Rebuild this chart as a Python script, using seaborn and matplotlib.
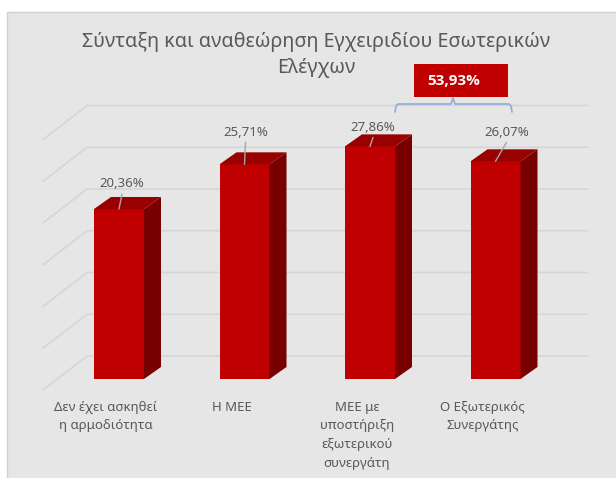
import numpy as np
import pandas as pd
import matplotlib
matplotlib.use("Agg")
import matplotlib.pyplot as plt
from matplotlib.patches import Polygon, Rectangle
import seaborn as sns

# data
categories = ["Δεν έχει ασκηθεί\nη αρμοδιότητα", "Η ΜΕΕ",
              "ΜΕΕ με\nυποστήριξη\nεξωτερικού\nσυνεργάτη", "Ο Εξωτερικός\nΣυνεργάτης"]
values = [20.36, 25.71, 27.86, 26.07]
grid_ticks = [0, 5, 10, 15, 20, 25, 30]
title_lines = ["Σύνταξη και αναθεώρηση Εγχειριδίου Εσωτερικών", "Ελέγχων"]
sum_pair = [2, 3]  # bars summed in the callout

# label placement (pixel offsets from bar top-front)
label_dx = [3, 1, 3, 11]
label_dy = [-25, -32, -19, -29]

W, H = 616, 478
FRONT = "#c00000"
TOP = "#990000"
SIDE = "#780000"
BG = "#e6e6e6"
GRID = "#d6d6d6"
TXT = "#595959"

# pixel geometry of the 3d projection
X0, XSTEP = 119, 125.5      # first bar centre, spacing
Y0, YSCALE = 379, 8.35      # floor at front of bars, px per %
DX, DY = 17, 12             # bar depth offset
WALL_DX, WALL_DY = 44, 34   # floor depth (back wall to front)
WALL_BACK = 23              # back wall zero above bar floor

sns.set_style("white")
plt.rcParams["font.family"] = ["Noto Sans", "DejaVu Sans"]

fig = plt.figure(figsize=(W / 100, H / 100), dpi=100)
fig.patch.set_facecolor("white")
ax = fig.add_axes([0, 0, 1, 1])


def px2x(px):
    return (px - X0) / XSTEP


def py2y(py):
    return (Y0 - py) / YSCALE


def fx(px):
    return px / W


def fy(py):
    return 1 - py / H


# chart area background
fig.patches.append(Rectangle((fx(7), fy(H + 5)), 1, fy(12) - fy(H + 5),
                             transform=fig.transFigure, facecolor=BG,
                             edgecolor="#d0d0d0", lw=1, zorder=-1))
ax.set_facecolor("none")

df = pd.DataFrame({"cat": categories, "val": values})
sns.barplot(data=df, x="cat", y="val", color=FRONT, saturation=1,
            width=50 / XSTEP, ax=ax, zorder=3, linewidth=0)

ax.set_xlim(px2x(0), px2x(W))
ax.set_ylim(py2y(H), py2y(0))
ax.axis("off")

# back wall gridlines
ddx = DX / XSTEP
ddy = DY / YSCALE
wall_y = WALL_BACK / YSCALE
for v in grid_ticks:
    yb = v + wall_y
    ax.plot([px2x(43), px2x(43 + WALL_DX), px2x(588)],
            [yb - WALL_DY / YSCALE, yb, yb], color=GRID, lw=1.2, zorder=1)

# 3d sides, tops, value labels
for i, p in enumerate(ax.patches):
    x0 = p.get_x()
    w = p.get_width()
    h = p.get_height()
    x1 = x0 + w
    side = Polygon([(x1, 0), (x1 + ddx, ddy), (x1 + ddx, h + ddy), (x1, h)],
                   closed=True, facecolor=SIDE, edgecolor="none", zorder=3)
    top = Polygon([(x0, h), (x1, h), (x1 + ddx, h + ddy), (x0 + ddx, h + ddy)],
                  closed=True, facecolor=TOP, edgecolor="none", zorder=3)
    ax.add_patch(side)
    ax.add_patch(top)
    cx = x0 + w / 2
    lx = cx + label_dx[i] / XSTEP
    ly = h - label_dy[i] / YSCALE
    ax.plot([cx, lx], [h, ly - 10 / YSCALE], color="#a6a6a6", lw=1, zorder=4)
    ax.text(lx, ly, f"{values[i]:.2f}".replace(".", ",") + "%",
            ha="center", va="center", fontsize=9.5, color=TXT, zorder=5)

# category labels at the front floor
for i, c in enumerate(categories):
    ax.text(i - 13 / XSTEP, py2y(401), c, ha="center", va="top",
            fontsize=9.5, color=TXT, linespacing=1.55)

# title, one text per line
fig.text(fx(316), fy(42), title_lines[0], ha="center", va="center",
         fontsize=14.2, color=TXT)
fig.text(fx(316), fy(68), title_lines[1], ha="center", va="center",
         fontsize=14.2, color=TXT)

# callout box with summed share
total = sum(values[j] for j in sum_pair)
fig.patches.append(Rectangle((fx(414), fy(97)), fx(508) - fx(414), fy(64) - fy(97),
                             transform=fig.transFigure, facecolor=FRONT,
                             edgecolor="none"))
fig.text(fx(454), fy(81), f"{total:.2f}".replace(".", ",") + "%", ha="center",
         va="center", fontsize=11, fontweight="bold", color="white",
         family=["Open Sans", "DejaVu Sans"])

# bracket
bx = [395, 396, 398, 451, 453, 455, 509, 511, 512]
by = [112, 106, 104, 104, 98, 104, 104, 106, 112]
fig.lines.append(plt.Line2D([fx(v) for v in bx], [fy(v) for v in by],
                            transform=fig.transFigure, color="#8faadc", lw=1.2))

fig.savefig("out.png", dpi=100, facecolor="white")
